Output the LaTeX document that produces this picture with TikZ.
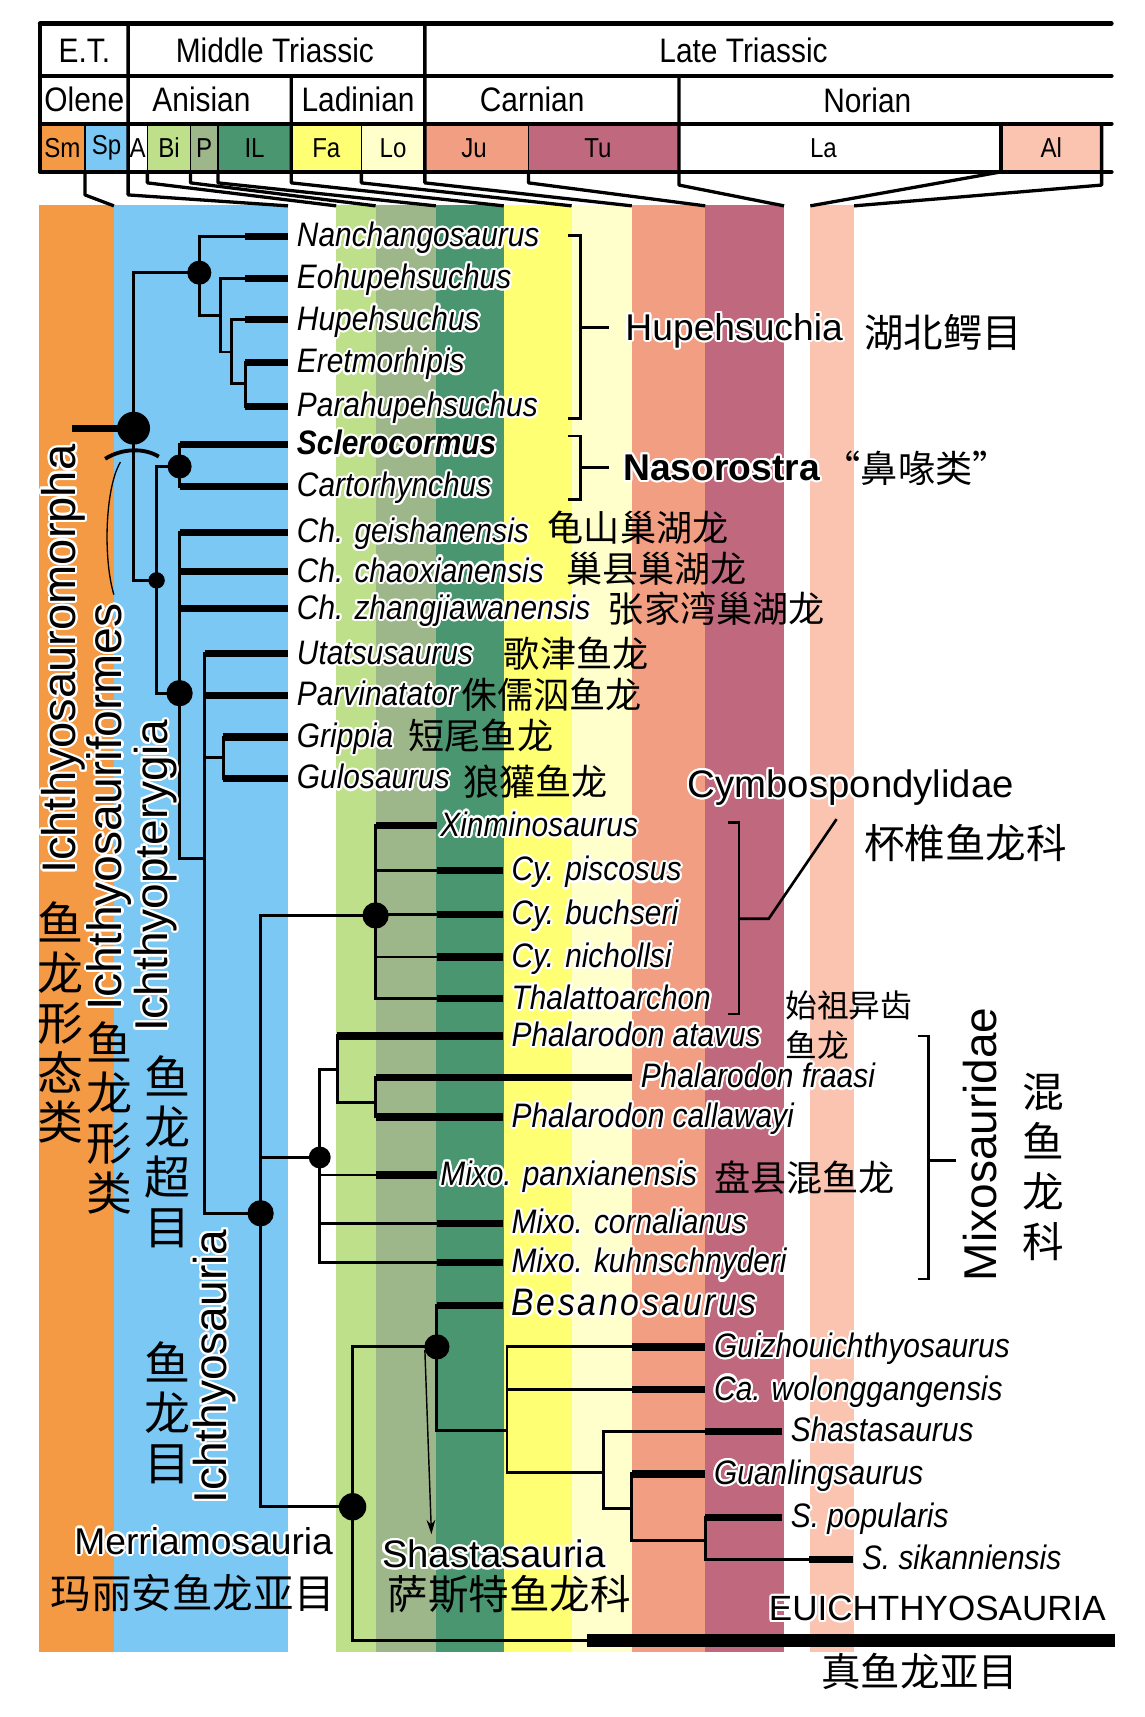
\documentclass[tikz,border=0pt]{standalone}
\usepackage{fontspec}
\setmainfont{Liberation Sans}
\newfontfamily\narrow{Liberation Sans}[FakeStretch=0.88]
\newfontfamily\cjk{Noto Sans CJK SC}
\usepackage{contour}
\contourlength{2pt}
\usetikzlibrary{arrows.meta}
\definecolor{tSm}{RGB}{244,154,69}
\definecolor{tSp}{RGB}{124,200,244}
\definecolor{tBi}{RGB}{191,224,138}
\definecolor{tP}{RGB}{157,183,139}
\definecolor{tIL}{RGB}{74,150,112}
\definecolor{tFa}{RGB}{255,255,115}
\definecolor{tLo}{RGB}{255,255,204}
\definecolor{tJu}{RGB}{242,158,130}
\definecolor{tTu}{RGB}{192,104,126}
\definecolor{tAl}{RGB}{250,196,176}
\newcommand{\fsz}[1]{\fontsize{#1}{#1}\selectfont}
\newcommand{\halo}[1]{\contour{white}{#1}}
\tikzset{
  hline/.style={line width=4pt, line cap=round},
  conn/.style={line width=3pt, line join=round},
  br/.style={line width=2.6pt, line cap=rect},
  tip/.style={line width=6.6pt},
  brack/.style={line width=2.4pt},
  hd/.style={font=\narrow\fsz{31}, inner sep=0pt},
  sub/.style={font=\narrow\fsz{25}, inner sep=0pt},
  sp/.style={anchor=west, inner xsep=8pt, inner ysep=0pt, text height=21pt, text depth=2pt, font=\narrow\fsz{31}\itshape},
  cn/.style={anchor=west, inner sep=0pt, font=\cjk\fsz{33}},
  clade/.style={inner sep=0pt, font=\fsz{34}},
  vlab/.style={rotate=90, inner sep=0pt, font=\fsz{42}},
  vcn/.style={align=center, inner sep=0pt, font=\cjk\fontsize{42}{45.5}\selectfont}
}

\begin{document}
\begin{tikzpicture}[x=1pt, y=-1pt]
\fill[white] (0,0) rectangle (1045,1568);
\useasboundingbox (0,0) rectangle (1045,1568);
% ---- time bands ----
\foreach \xa/\xb/\c in {36/104/tSm, 104/263/tSp, 307/343/tBi, 343/398/tP, 398/460/tIL,
  460/522/tFa, 522/577/tLo, 577/644/tJu, 644/716/tTu, 740/780/tAl}{
  \fill[\c] (\xa,187) rectangle (\xb,1509);}
% ---- header ----
\foreach \xa/\xb/\c in {36.6/77.6/tSm, 77.6/117/tSp, 134.6/174/tBi, 174/199/tP, 199/266/tIL,
  266/330/tFa, 330/388/tLo, 388/482.6/tJu, 482.6/620/tTu, 914/1006/tAl}{
  \fill[\c] (\xa,113) rectangle (\xb,157);}
\foreach \x in {77.6,134.6,174,199,330,482.6}
  \draw[line width=1.5pt] (\x,113) -- (\x,157);
\foreach \y in {21.3,69.4,113,157}
  \draw[hline] (36.6,\y) -- (1015,\y);
\draw[line width=4pt] (36.6,21.3) -- (36.6,157);
\draw[line width=3pt] (914,113) -- (914,157);
% connectors down to the bands
\draw[conn] (77.6,157) -- (77.6,178) -- (104,188);
\draw[conn] (117,21.3) -- (117,178) -- (263,188);
\draw[conn] (388,21.3) -- (388,167) -- (577,188);
\draw[conn] (266,69.4) -- (266,167) -- (460,188);
\draw[conn] (620,69.4) -- (620,169) -- (716,188);
\foreach \xa/\xb in {134.6/307, 174/343, 199/398, 330/522, 482.6/644}
  \draw[conn] (\xa,157) -- (\xa,167) -- (\xb,188);
\draw[conn] (914,157) -- (740,188);
\draw[conn] (1006,113) -- (1006,169) -- (780,188);
% header texts
\node[hd] (et)  at (77,46)  {E.T.};
\node[hd] (mt)  at (251,46) {Middle Triassic};
\node[hd] (lt)  at (679,46) {Late Triassic};
\node[hd] (ole) at (77,91)  {Olene};
\node[hd] (ani) at (184,91) {Anisian};
\node[hd] (lad) at (327,91) {Ladinian};
\node[hd] (car) at (486,91) {Carnian};
\node[hd] (nor) at (792,92) {Norian};
\foreach \x/\t in {57/Sm, 97.3/Sp, 125.8/A, 154.3/Bi, 186.5/P, 232.5/IL, 298/Fa, 359/Lo,
  433/Ju, 546/Tu, 752/La, 960/Al}
  \node[sub] (z\t) at (\x,135) {\t};
% ---- tree ----
\coordinate (root) at (122,391);
\coordinate (hup)  at (182,249);
\coordinate (ichf) at (143,530);
\coordinate (naso) at (164,426);
\coordinate (ichp) at (164,633);
\coordinate (ichs) at (238,1108);
\coordinate (cymb) at (343,836);
\coordinate (mixo) at (292,1057);
\coordinate (merr) at (322,1376);
\coordinate (shas) at (399,1230);
% stem and Hupehsuchia
\draw[line width=6.5pt] (66,391) -- (root);
\draw[br] (ichf) -| (122,249) -- (hup);
\draw[br] (224,216) -| (182,288) -- (201,288);
\draw[br] (224,254) -| (201,321.5) -- (211.5,321.5);
\draw[br] (224,292) -| (211.5,350) -- (224,350);
\draw[br] (224,331) -- (224,371);
% Nasorostra, Ichthyopterygia
\draw[br] (naso) -| (143,633) -- (ichp);
\draw[br] (164,406) -- (164,444);
\draw[br] (164,486) -- (164,784) -- (187,784);
\draw[br] (187,597) -- (187,1108) -- (ichs);
\draw[br] (187,692) -- (204,692);
\draw[br] (204,673) -- (204,711);
% Ichthyosauria
\draw[br] (cymb) -| (238,1376) -- (merr);
\draw[br] (238,1057) -- (mixo);
\draw[br] (343,754) -- (343,912);
\foreach \y in {795,835,874,912} \draw[br] (343,\y) -- (399,\y);
\draw[br] (292,977) -- (292,1153);
\draw[br] (292,977) -- (308,977);
\draw[br] (308,946) -- (308,1006.5) -- (343,1006.5);
\draw[br] (343,984) -- (343,1020);
\draw[br] (292,1073) -- (343,1073);
\draw[br] (292,1117) -- (399,1117);
\draw[br] (292,1153) -- (399,1153);
% Merriamosauria
\draw[br] (shas) -| (322,1498) -- (536,1498);
\draw[line width=12pt] (536,1498) -- (1018,1498);
\draw[br] (399,1192) -- (399,1306) -- (463,1306);
\draw[br] (463,1230) -- (463,1345) -- (551,1345);
\draw[br] (463,1230) -- (577,1230);
\draw[br] (463,1269) -- (577,1269);
\draw[br] (551,1307) -- (551,1377.6) -- (577,1377.6);
\draw[br] (551,1307) -- (644,1307);
\draw[br] (577,1346) -- (577,1407) -- (644,1407);
\draw[br] (644,1385.5) -- (644,1424) -- (739,1424);
% node dots
\fill (root) circle[radius=15pt];
\foreach \c/\r in {hup/11, ichf/7.5, naso/11, ichp/12, ichs/12, cymb/12, mixo/10, merr/12.5, shas/11.5}
  \fill (\c) circle[radius=\r pt];
% Ichthyosauriformes mark
\draw[line width=3.5pt] (96,419) .. controls (112,409) and (132,409) .. (145,417);
\draw[line width=1.2pt] (110,422) .. controls (96,445) and (94,510) .. (104,543);
\draw[line width=1.3pt, -{Stealth[length=13pt, width=8pt]}] (388,1233) -- (394,1401);
% ---- taxa ----
\foreach \n/\tx/\xe/\y/\name in {
  1/224/263/216/Nanchangosaurus, 2/224/263/254/Eohupehsuchus, 3/224/263/292/Hupehsuchus,
  4/224/263/331/Eretmorhipis, 5/224/263/371/Parahupehsuchus, 6/164/263/406/\textbf{Sclerocormus},
  7/164/263/444/Cartorhynchus, 8/164/263/486/Ch. geishanensis, 9/164/263/522/Ch. chaoxianensis,
  10/164/263/556/Ch. zhangjiawanensis, 11/187/263/597/Utatsusaurus, 12/187/263/635/Parvinatator,
  13/204/263/673/Grippia, 14/204/263/711/Gulosaurus, 15/343/399/754/\hspace*{-5pt}Xinminosaurus,
  16/399/459/795/Cy. piscosus, 17/399/459/835/Cy. buchseri, 18/399/459/874/Cy. nichollsi,
  19/399/459/912/Thalattoarchon, 20/308/459/946/Phalarodon atavus, 21/343/577/984/Phalarodon fraasi,
  22/343/459/1020/Phalarodon callawayi, 23/343/399/1073/\hspace*{-5pt}Mixo. panxianensis,
  24/399/459/1117/Mixo. cornalianus, 25/399/459/1153/Mixo. kuhnschnyderi,
  26/399/459/1192/\fsz{35}\addfontfeature{LetterSpace=7}Besanosaurus, 27/577/644/1230/Guizhouichthyosaurus,
  28/577/644/1269/Ca. wolonggangensis, 29/644/714/1307/Shastasaurus, 30/577/644/1346/Guanlingsaurus,
  31/644/714/1385.5/S. popularis, 32/739/779/1424/S. sikanniensis}{
  \node[sp] (s\n) at (\xe,\y) {\halo{\name}};
  \draw[tip] (\tx,\y) -- (s\n.west);}
% chinese names
\node[cn] (cn8)  at (500,482)  {龟山巢湖龙};
\node[cn] (cn9)  at (517,519)  {巢县巢湖龙};
\node[cn] (cn10) at (555,556)  {张家湾巢湖龙};
\node[cn] (cn11) at (460,597)  {歌津鱼龙};
\node[cn] (cn12) at (421,634)  {侏儒泅鱼龙};
\node[cn] (cn13) at (373,672)  {短尾鱼龙};
\node[cn] (cn14) at (423,714)  {狼獾鱼龙};
\node[cn] (cn23) at (652,1075) {盘县混鱼龙};
\node[cn, font=\cjk\fontsize{29}{36}\selectfont, align=left, anchor=north west] (cnph) at (717,905) {始祖异齿\\鱼龙};
% ---- clade brackets ----
\draw[brack] (519,215) -- (530,215) -- (530,382) -- (519,382);
\draw[brack] (530,299) -- (556,299);
\draw[brack] (519,398) -- (530,398) -- (530,456) -- (519,456);
\draw[brack] (530,427) -- (556,427);
\draw[brack] (665,751) -- (675,751) -- (675,926) -- (665,926);
\draw[brack] (675,839) -- (702,839) -- (764,748);
\draw[brack] (838,946) -- (848,946) -- (848,1168) -- (838,1168);
\draw[brack] (848,1060) -- (873,1060);
% clade labels
\node[clade, anchor=west] (hupl) at (571,303) {\halo{Hupehsuchia}};
\node[cn, font=\cjk\fsz{36}] (hupc) at (789,304) {湖北鳄目};
\node[clade, anchor=west] (nasl) at (569,428) {\halo{\textbf{Nasorostra}}};
\node[cn, font=\cjk\fsz{34}] (nasc) at (752,428) {“鼻喙类”};
\node[clade, anchor=west, font=\fsz{35}] (cyml) at (628,720) {\halo{Cymbospondylidae}};
\node[cn, font=\cjk\fsz{37}] (cymc) at (789,770) {杯椎鱼龙科};
\node[vlab] (mixl) at (895,1045) {Mixosauridae};
\node[vcn, font=\cjk\fontsize{38}{45.7}\selectfont] (mixc) at (953,1066) {混\\鱼\\龙\\科};
\node[vlab, font=\fsz{43}] (imor) at (59,602) {\halo{Ichthyosauromorpha}};
\node[vlab, font=\fsz{44}] (ifor) at (101,737) {\halo{Ichthyosauriformes}};
\node[vlab] (ipte) at (143,800) {\halo{Ichthyopterygia}};
\node[vlab] (isau) at (197,1248) {\halo{Ichthyosauria}};
\node[vcn] (imorc) at (55,934) {鱼\\龙\\形\\态\\类};
\node[vcn] (iforc) at (100,1021) {鱼\\龙\\形\\类};
\node[vcn] (iptec) at (153,1052) {鱼\\龙\\超\\目};
\node[vcn] (isauc) at (153,1290) {鱼\\龙\\目};
\node[clade] (merl) at (186,1408) {\halo{Merriamosauria}};
\node[cn, anchor=center, font=\cjk\fsz{37}] (merc) at (176,1455) {玛丽安鱼龙亚目};
\node[clade, font=\fsz{35}] (shal) at (451,1420) {\halo{Shastasauria}};
\node[cn, anchor=center, font=\cjk\fsz{37}] (shac) at (465,1456) {萨斯特鱼龙科};
\node[clade, font=\fsz{32}] (euil) at (856,1470) {\halo{EUICHTHYOSAURIA}};
\node[cn, anchor=center, font=\cjk\fsz{36}] (euic) at (840,1526) {真鱼龙亚目};
\end{tikzpicture}
\end{document}
